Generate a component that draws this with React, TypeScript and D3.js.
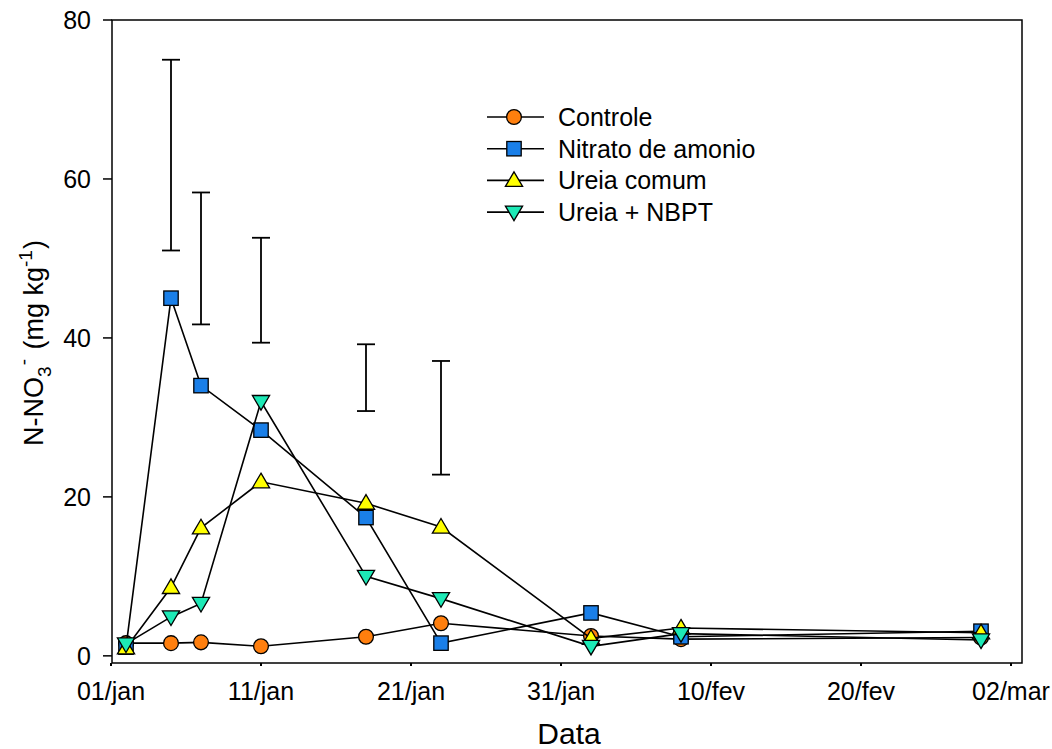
import React from 'react';
import * as d3 from 'd3';

const dates = ['2021-01-02', '2021-01-05', '2021-01-07', '2021-01-11', '2021-01-18', '2021-01-23', '2021-02-02', '2021-02-08', '2021-02-28'];
const controle = [1.6, 1.6, 1.7, 1.2, 2.4, 4.1, 2.5, 2.1, 2.3];
const nitrato = [1.1, 45, 34, 28.4, 17.4, 1.6, 5.4, 2.4, 3.1];
const ureia = [1.0, 8.6, 16.1, 21.9, 19.2, 16.2, 2.2, 3.5, 2.9];
const ureiaNbpt = [1.5, 4.9, 6.6, 32, 10, 7.2, 1.2, 2.8, 2.0];

const errDates = ['2021-01-05', '2021-01-07', '2021-01-11', '2021-01-18', '2021-01-23'];
const errLow = [51, 41.7, 39.4, 30.8, 22.8];
const errHigh = [75, 58.3, 52.6, 39.2, 37.1];

const xTicks = ['2021-01-01', '2021-01-11', '2021-01-21', '2021-01-31', '2021-02-10', '2021-02-20', '2021-03-02'];
const xTickLabels = ['01/jan', '11/jan', '21/jan', '31/jan', '10/fev', '20/fev', '02/mar'];
const yTicks = [0, 20, 40, 60, 80];

const seriesNames = ['Controle', 'Nitrato de amonio', 'Ureia comum', 'Ureia + NBPT'];
const seriesColors = ['#ff7f0e', '#1a7fe8', '#ffff00', '#1de9b6'];
const seriesShapes = ['circle', 'square', 'up', 'down'];

const FONT = '"Liberation Sans", Arial, sans-serif';

const W = 1052;
const H = 749;
const left = 112;
const right = 1022;
const top = 20;
const bottom = 663;

const parse = (s: string) => new Date(s + 'T00:00:00Z');

function Marker({ shape, x, y, color }: { shape: string; x: number; y: number; color: string }) {
  const stroke = { fill: color, stroke: '#000', strokeWidth: 1.3 };
  if (shape === 'circle') return <circle cx={x} cy={y} r={7.4} {...stroke} />;
  if (shape === 'square') return <rect x={x - 7.2} y={y - 7.2} width={14.4} height={14.4} {...stroke} />;
  const s = 8.6;
  if (shape === 'up') {
    return <path d={`M${x},${y - s}L${x + s},${y + s * 0.7}L${x - s},${y + s * 0.7}Z`} {...stroke} />;
  }
  return <path d={`M${x},${y + s}L${x + s},${y - s * 0.7}L${x - s},${y - s * 0.7}Z`} {...stroke} />;
}

export default function App() {
  // 01/jan sits on the left frame, 02/mar a little inside the right one
  const x = d3.scaleUtc()
    .domain([parse('2021-01-01'), parse('2021-03-02')])
    .range([left - 1, 1011]);
  const y = d3.scaleLinear().domain([-0.9, 80]).range([bottom, top]);

  const allSeries = [controle, nitrato, ureia, ureiaNbpt];
  const line = d3.line<number>()
    .x((_, i) => x(parse(dates[i])))
    .y(d => y(d));

  return (
    <svg width={W} height={H} style={{ position: 'absolute', left: 0, top: 0, background: '#fff' }} fontFamily={FONT}>
      <rect x={0} y={0} width={W} height={H} fill="#fff" />
      {/* frame */}
      <rect x={left} y={top} width={right - left} height={bottom - top} fill="none" stroke="#000" strokeWidth={1.5} />

      {/* y axis */}
      {yTicks.map(t => (
        <g key={t}>
          <line x1={left - 9} x2={left} y1={y(t)} y2={y(t)} stroke="#000" strokeWidth={1.5} />
          <text x={91} y={y(t)} dy="0.36em" textAnchor="end" fontSize={25}>{t}</text>
        </g>
      ))}

      {/* x axis */}
      {xTicks.map((t, i) => (
        <g key={t}>
          <line x1={x(parse(t))} x2={x(parse(t))} y1={bottom} y2={bottom + 3} stroke="#000" strokeWidth={2} />
          <text x={x(parse(t))} y={700} textAnchor="middle" fontSize={25}>{xTickLabels[i]}</text>
        </g>
      ))}

      {/* error bars */}
      {errDates.map((d, i) => {
        const cx = x(parse(d));
        return (
          <g key={d} stroke="#000" strokeWidth={1.8}>
            <line x1={cx} x2={cx} y1={y(errLow[i])} y2={y(errHigh[i])} />
            <line x1={cx - 9} x2={cx + 9} y1={y(errLow[i])} y2={y(errLow[i])} />
            <line x1={cx - 9} x2={cx + 9} y1={y(errHigh[i])} y2={y(errHigh[i])} />
          </g>
        );
      })}

      {/* series */}
      {allSeries.map((s, k) => (
        <g key={seriesNames[k]}>
          <path d={line(s) || ''} fill="none" stroke="#000" strokeWidth={1.6} />
          {s.map((v, i) => (
            <Marker key={i} shape={seriesShapes[k]} x={x(parse(dates[i]))} y={y(v)} color={seriesColors[k]} />
          ))}
        </g>
      ))}

      {/* legend */}
      {seriesNames.map((n, k) => {
        const ly = 117 + k * 31.7;
        return (
          <g key={n}>
            <line x1={487} x2={544} y1={ly} y2={ly} stroke="#000" strokeWidth={1.6} />
            <Marker shape={seriesShapes[k]} x={514} y={ly} color={seriesColors[k]} />
            <text x={558} y={ly} dy="0.36em" fontSize={25}>{n}</text>
          </g>
        );
      })}

      {/* axis titles */}
      <text x={(left + right) / 2 + 2} y={744} textAnchor="middle" fontSize={30}>Data</text>
      <text transform="translate(43,343) rotate(-90)" textAnchor="middle" fontSize={27}>
        N-NO<tspan fontSize={19} dy={8}>3</tspan>
        <tspan fontSize={19} dx={1} dy={-21}>-</tspan>
        <tspan dx={2} dy={13}> (mg kg</tspan>
        <tspan fontSize={19} dy={-11}>-1</tspan>
        <tspan dx={1} dy={11}>)</tspan>
      </text>
    </svg>
  );
}
